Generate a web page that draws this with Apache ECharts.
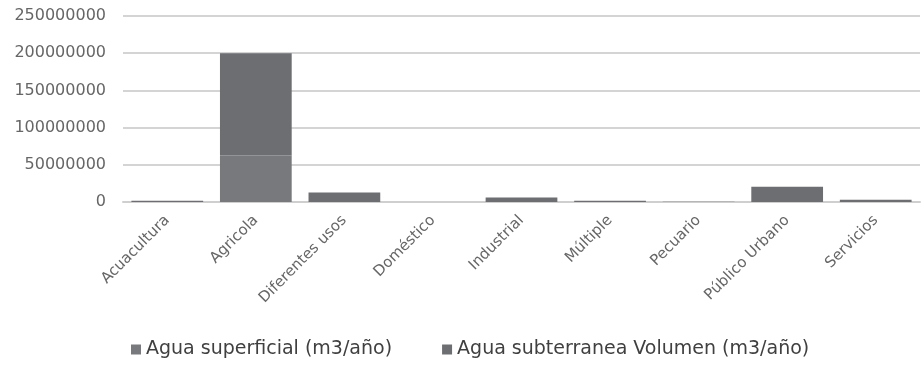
<!DOCTYPE html>
<html>
<head>
<meta charset="utf-8">
<script src="https://cdn.jsdelivr.net/npm/echarts@6/dist/echarts.min.js"></script>
<style>
  html, body { margin: 0; padding: 0; background: #fff; }
  #chart { width: 924px; height: 371px; }
</style>
</head>
<body>
<div id="chart"></div>
<script>
// Uso del agua por tipo de aprovechamiento (m3/año)
const categories = ['Acuacultura', 'Agricola', 'Diferentes usos', 'Doméstico', 'Industrial', 'Múltiple', 'Pecuario', 'Público Urbano', 'Servicios'];
const superficial = [0, 62500000, 0, 0, 0, 0, 0, 0, 0];
const subterranea = [1700000, 137500000, 12900000, 150000, 6200000, 1700000, 200000, 20500000, 3100000];
const yTicks = [0, 50000000, 100000000, 150000000, 200000000, 250000000];

const chart = echarts.init(document.getElementById('chart'), null, { renderer: 'canvas' });
chart.setOption({
  animation: false,
  grid: { left: 123, right: 4, top: 16, bottom: 169, containLabel: false },
  legend: {
    top: 335,
    left: 126,
    itemWidth: 10,
    itemHeight: 10,
    itemGap: 50,
    icon: 'rect',
    textStyle: { color: '#404040', fontSize: 19, fontFamily: 'DejaVu Sans, sans-serif' },
    data: ['Agua superficial (m3/año)', 'Agua subterranea Volumen (m3/año)']
  },
  xAxis: {
    type: 'category',
    data: categories,
    axisLine: { lineStyle: { color: '#cfcfcf', width: 2 } },
    axisTick: { show: false },
    axisLabel: {
      rotate: 45,
      interval: 0,
      margin: 16,
      color: '#666666',
      fontSize: 15,
      fontFamily: 'DejaVu Sans, sans-serif'
    }
  },
  yAxis: {
    type: 'value',
    min: yTicks[0],
    max: yTicks[yTicks.length - 1],
    interval: yTicks[1] - yTicks[0],
    axisLine: { show: false },
    axisTick: { show: false },
    splitLine: { lineStyle: { color: '#d4d4d4', width: 2 } },
    axisLabel: {
      margin: 17,
      color: '#666666',
      fontSize: 16,
      fontFamily: 'DejaVu Sans, sans-serif',
      formatter: v => String(v)
    }
  },
  series: [
    {
      name: 'Agua superficial (m3/año)',
      type: 'bar',
      stack: 'agua',
      data: superficial,
      barCategoryGap: '19%',
      itemStyle: { color: '#78797c' }
    },
    {
      name: 'Agua subterranea Volumen (m3/año)',
      type: 'bar',
      stack: 'agua',
      data: subterranea,
      barCategoryGap: '19%',
      itemStyle: { color: '#6d6e72' }
    }
  ]
});
</script>
</body>
</html>
